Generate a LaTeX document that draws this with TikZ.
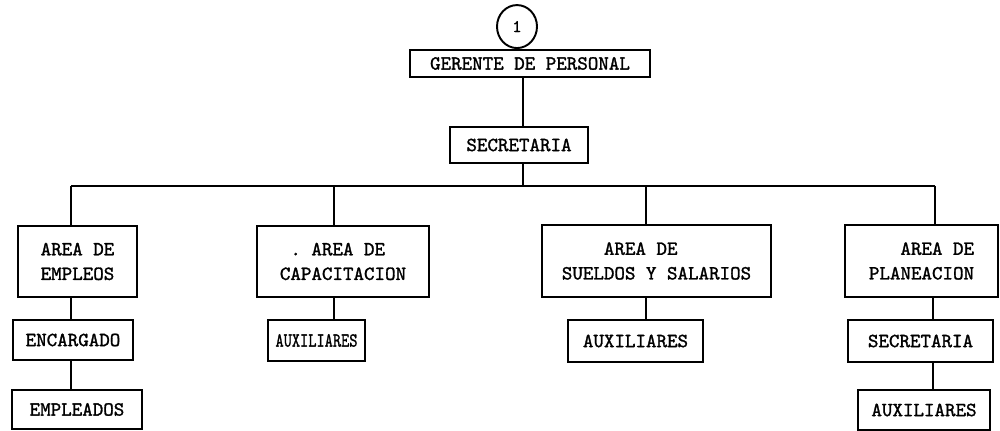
\documentclass[tikz,border=0pt]{standalone}
\usepackage{fontspec}
\usetikzlibrary{shapes.geometric}
\newfontfamily\tw{lmmono10-regular.otf}[FakeBold=1.4]
\tikzset{
  box/.style={draw, line width=1.1pt, inner sep=0pt, font=\tw\fontsize{11.4}{14}\selectfont, align=center},
  link/.style={line width=1.1pt},
}
\begin{document}
\begin{tikzpicture}[x=0.02cm, y=-0.02cm]
\useasboundingbox (0,0) rectangle (1000,431);
% top level
\node[box, minimum width=4.8cm, minimum height=0.54cm] (ger) at (530,63.5) {GERENTE DE PERSONAL};
\node[draw, line width=1.1pt, ellipse, inner sep=0pt, minimum width=0.8cm, minimum height=0.86cm, anchor=south, font=\tw\fontsize{10}{10}\selectfont] (one) at (ger.north -| 517,0) {1};
\node[box, minimum width=2.76cm, minimum height=0.72cm] (sec) at (519,145) {SECRETARIA};
% areas
\node[box, minimum width=2.38cm, minimum height=1.42cm] (emp) at (77.5,261.5) {AREA DE\\EMPLEOS};
\node[box, minimum width=3.44cm, minimum height=1.42cm, align=left] (cap) at (343,261.5) {\ .\ AREA DE\\CAPACITACION};
\node[box, minimum width=4.58cm, minimum height=1.44cm, align=left] (sue) at (656.5,261) {\ \ \ \ AREA DE\\SUELDOS Y SALARIOS};
\node[box, minimum width=3.06cm, minimum height=1.44cm, align=left] (pla) at (921.5,261) {\ \ \ AREA DE\\PLANEACION};
% second level
\node[box, minimum width=2.4cm, minimum height=0.8cm] (enc) at (73,340) {ENCARGADO};
\node[box, minimum width=2.6cm, minimum height=0.78cm] (empl) at (77,409.5) {EMPLEADOS};
\node[box, minimum width=1.94cm, minimum height=0.82cm] (aux1) at (316.5,340.5) {\scalebox{0.78}[1]{AUXILIARES}};
\node[box, minimum width=2.7cm, minimum height=0.84cm] (aux2) at (635.5,341) {AUXILIARES};
\node[box, minimum width=2.9cm, minimum height=0.84cm] (sec2) at (920.5,341) {SECRETARIA};
\node[box, minimum width=2.64cm, minimum height=0.8cm] (aux3) at (924,410) {AUXILIARES};
% bus coordinates
\coordinate (b1) at (71,186);
\coordinate (b2) at (334,186);
\coordinate (b3) at (646,186);
\coordinate (b4) at (935,186);
\coordinate (bc) at (523,186);
% connectors
\draw[link] (ger.south -| bc) -- (sec.north -| bc);
\draw[link] (sec.south -| bc) -- (bc);
\draw[link] (b1) -- (b4);
\draw[link] (b1) -- (emp.north -| b1);
\draw[link] (b2) -- (cap.north -| b2);
\draw[link] (b3) -- (sue.north -| b3);
\draw[link] (b4) -- (pla.north -| b4);
\draw[link] (emp.south -| b1) -- (enc.north -| b1);
\draw[link] (enc.south -| b1) -- (empl.north -| b1);
\draw[link] (cap.south -| b2) -- (aux1.north -| b2);
\draw[link] (sue.south -| b3) -- (aux2.north -| b3);
\draw[link] (pla.south -| 933,0) -- (sec2.north -| 933,0);
\draw[link] (sec2.south -| 933,0) -- (aux3.north -| 933,0);
\end{tikzpicture}
\end{document}
